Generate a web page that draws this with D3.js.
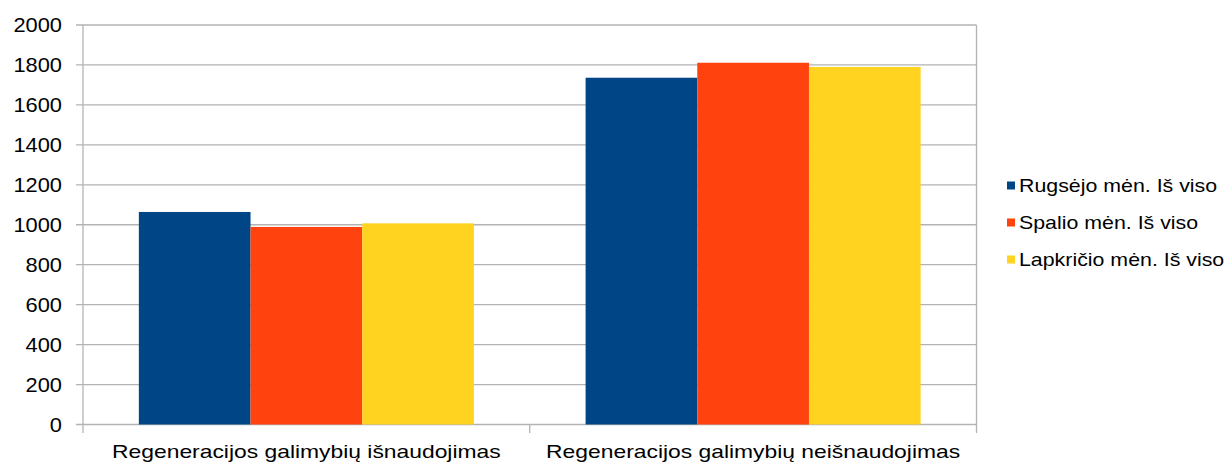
<!DOCTYPE html>
<html>
<head>
<meta charset="utf-8">
<script src="https://cdn.jsdelivr.net/npm/d3@7"></script>
<style>
  html, body { margin: 0; padding: 0; background: #fff; }
  svg { display: block; }
  text { font-family: "Liberation Sans", Arial, sans-serif; fill: #000; }
</style>
</head>
<body>
<svg id="chart" width="1232" height="465"></svg>
<script>
// Chart data
const categories = ["Regeneracijos galimybių išnaudojimas", "Regeneracijos galimybių neišnaudojimas"];
const seriesNames = ["Rugsėjo mėn. Iš viso", "Spalio mėn. Iš viso", "Lapkričio mėn. Iš viso"];
const rugsejo = [1064, 1736];
const spalio = [989, 1811];
const lapkricio = [1007, 1790];
const yTicks = [0, 200, 400, 600, 800, 1000, 1200, 1400, 1600, 1800, 2000];
const colors = ["#004586", "#ff420e", "#ffd320"];

const seriesValues = [rugsejo, spalio, lapkricio];
const rows = categories.map((c, i) => ({
  category: c,
  values: seriesNames.map((s, j) => ({ series: s, value: seriesValues[j][i], idx: j }))
}));

const svg = d3.select("#chart");
const plot = { left: 83, right: 976.5, top: 25, bottom: 424.5 };
const gridColor = "#b3b3b3";

const x = d3.scaleBand().domain(categories)
  .range([plot.left, plot.right]).paddingInner(0.25).paddingOuter(0.125);
const xFull = d3.scaleBand().domain(categories).range([plot.left, plot.right]);
const xInner = d3.scaleBand().domain(seriesNames).range([0, x.bandwidth()]);
const y = d3.scaleLinear().domain([0, 2000]).range([plot.bottom, plot.top]);

// Horizontal gridlines with left tick stubs
svg.append("g").selectAll("line").data(yTicks).join("line")
  .attr("x1", plot.left - 7).attr("x2", plot.right)
  .attr("y1", d => y(d)).attr("y2", d => y(d))
  .attr("stroke", gridColor).attr("stroke-width", 1.3);

// Y tick labels
svg.append("g").selectAll("text").data(yTicks).join("text")
  .attr("transform", d => `translate(62,${y(d) + 7}) scale(1.12,1)`)
  .attr("text-anchor", "end")
  .style("font-size", "19.5px")
  .text(d => d);

// Bars
const groups = svg.append("g").selectAll("g").data(rows).join("g")
  .attr("transform", d => `translate(${x(d.category)},0)`);
groups.selectAll("rect").data(d => d.values).join("rect")
  .attr("x", d => xInner(d.series))
  .attr("width", xInner.bandwidth())
  .attr("y", d => y(d.value))
  .attr("height", d => y(0) - y(d.value))
  .attr("fill", d => colors[d.idx]);

// Left axis line, right border and category ticks
const vTicks = [plot.left, ...categories.slice(1).map(c => xFull(c)), plot.right];
svg.append("g").selectAll("line").data(vTicks).join("line")
  .attr("x1", d => d).attr("x2", d => d)
  .attr("y1", (d, i) => (i === 0 || i === vTicks.length - 1) ? plot.top : plot.bottom)
  .attr("y2", plot.bottom + 8.5)
  .attr("stroke", gridColor).attr("stroke-width", 1.3);

// Category labels
svg.append("g").selectAll("text").data(categories).join("text")
  .attr("transform", d => `translate(${xFull(d) + xFull.bandwidth() / 2},458) scale(1.27,1)`)
  .attr("text-anchor", "middle")
  .style("font-size", "18px")
  .text(d => d);

// Legend
const legend = svg.append("g").selectAll("g").data(seriesNames).join("g")
  .attr("transform", (d, i) => `translate(1007,${185.5 + i * 37})`);
legend.append("rect")
  .attr("x", 0).attr("y", -4).attr("width", 8).attr("height", 8)
  .attr("fill", (d, i) => colors[i]);
legend.append("text")
  .attr("transform", "translate(12,6) scale(1.22,1)")
  .style("font-size", "17.5px")
  .text(d => d);
</script>
</body>
</html>
